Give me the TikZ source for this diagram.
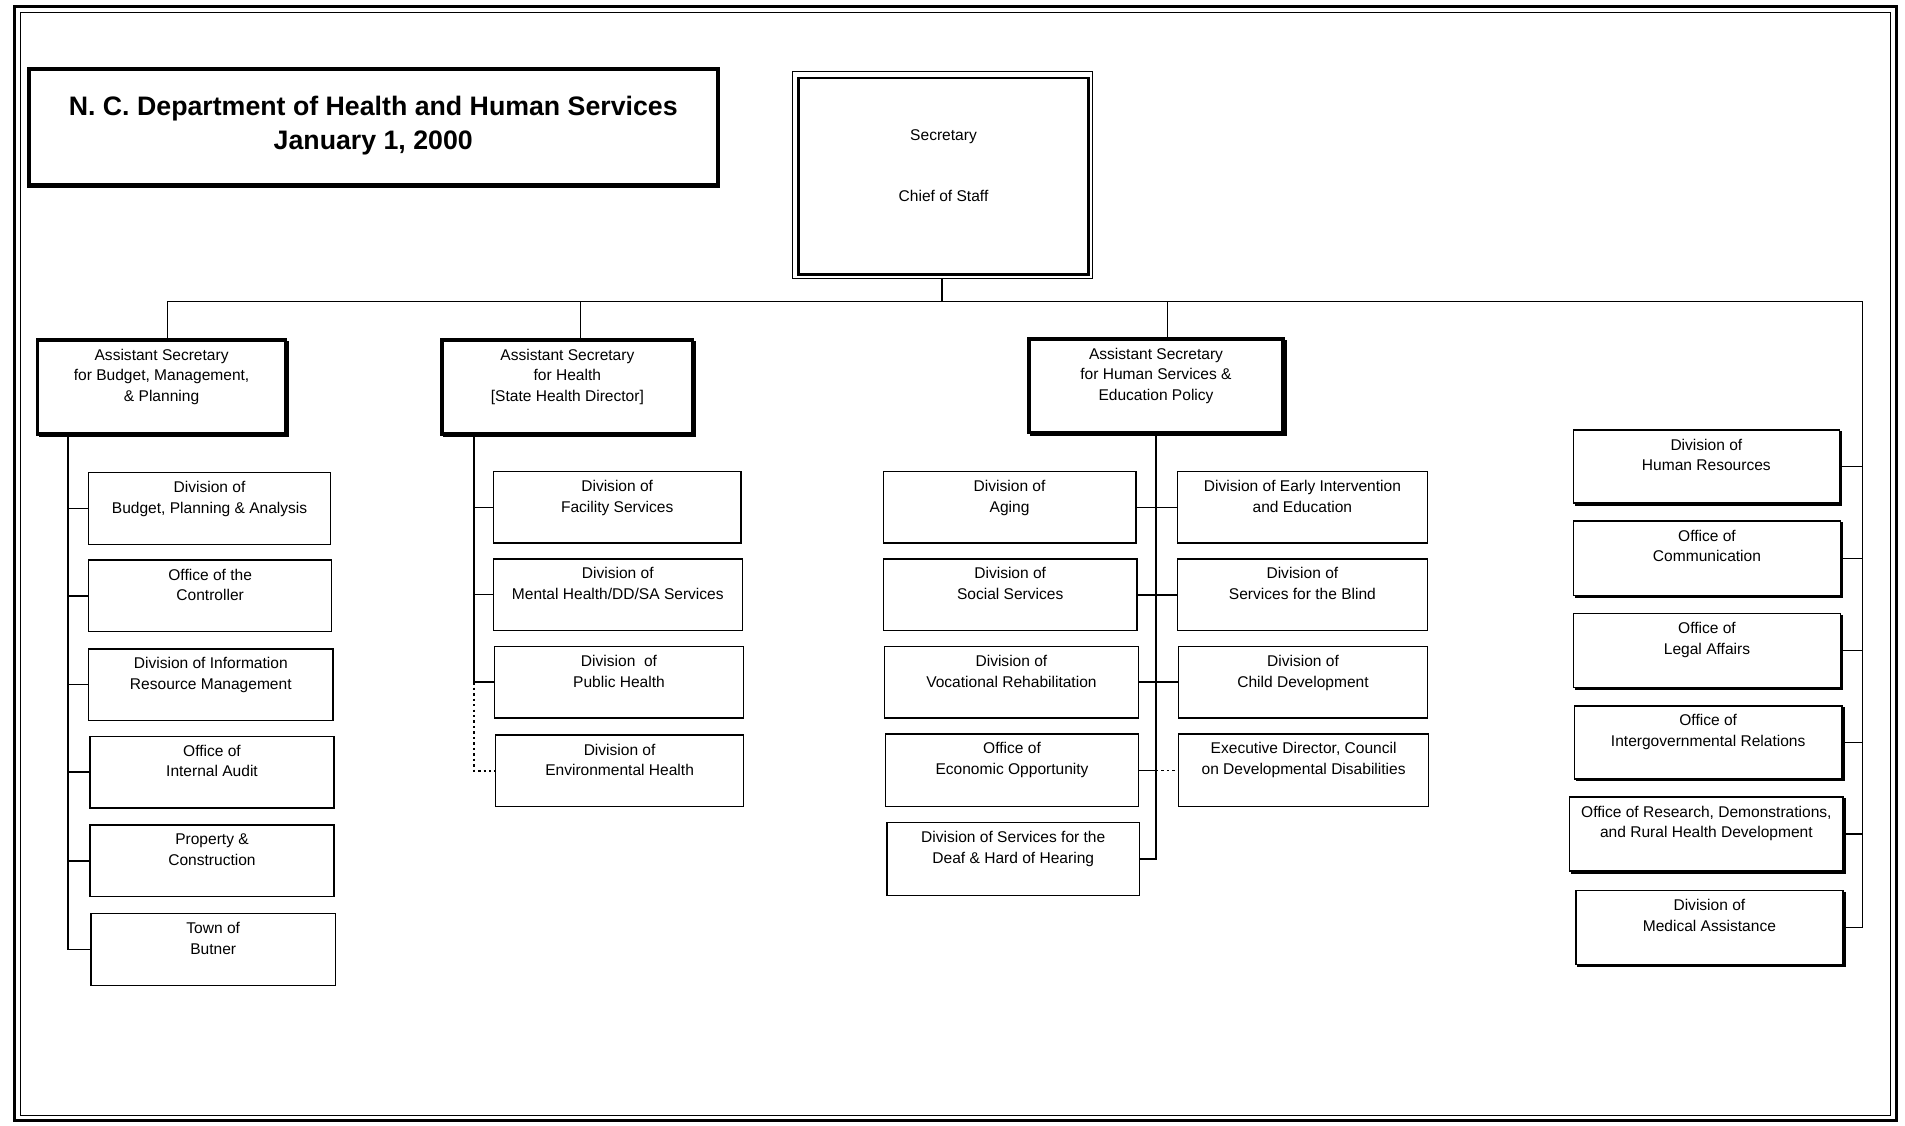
\documentclass[tikz,border=0pt]{standalone}
\usepackage{fontspec}
\setmainfont{Liberation Sans}
\newcommand\bodyfont{\fontsize{12.8}{17}\selectfont}
\newcommand\obox[7][]{%
  \node[obx,#1,anchor=north west] (#2) at (#3,#4)
    {\parbox[t][#6pt][t]{#5pt}{\bodyfont\centering\rule{0pt}{16.5pt}#7}};}
\tikzset{
  obx/.style={draw, line width=1.2pt, inner sep=0pt, outer sep=0pt},
  asst/.style={line width=3pt},
  conn/.style={line width=1.2pt},
  dotconn/.style={line width=1.2pt, dash pattern=on 2pt off 2.5pt},
  shadowst/.style={line width=2pt}
}
\begin{document}
\begin{tikzpicture}[x=1pt,y=-1pt]
\useasboundingbox (0,0) rectangle (1568,926);
% outer frame
\draw[line width=2.5pt] (12,5) rectangle (1561,922);
\draw[line width=0.8pt] (17,10) rectangle (1556,918);

% title
\node[draw, line width=3.5pt, inner sep=0pt, anchor=north west] (title) at (22,55)
  {\parbox[t][96pt][t]{567pt}{\centering\fontsize{22}{28}\selectfont\bfseries\rule{0pt}{38pt}N. C. Department of Health and Human Services\\January 1, 2000}};

% secretary
\node[draw, line width=1pt, inner sep=0pt, outer sep=0pt, minimum width=247pt, minimum height=170pt, anchor=north west] (secO) at (652,59) {};
\node[draw, line width=2.2pt, inner sep=0pt, anchor=north west] (sec) at (656,63)
  {\parbox[t][162pt][t]{239pt}{\bodyfont\centering\rule{0pt}{51.5pt}Secretary\\[33pt]Chief of Staff}};

% assistant secretaries
\obox[asst]{a1}{31}{280}{204}{77}{Assistant Secretary\\for Budget, Management,\\\& Planning}
\obox[asst]{a2}{364}{280}{206}{77}{Assistant Secretary\\for Health\\{[}State Health Director{]}}
\obox[asst]{a3}{847}{279}{209}{77}{Assistant Secretary\\for Human Services \&\\Education Policy}
\foreach \n in {a1,a2,a3}{
  \draw[shadowst] ([shift={(2,1)}]\n.north east) -- ([shift={(2,2)}]\n.south east) -- ([shift={(1,2)}]\n.south west);
}

% column 1
\obox{b1}{73}{389}{199}{59}{Division of\\Budget, Planning \& Analysis}
\obox{b2}{73}{461}{200}{59}{Office of the\\Controller}
\obox{b3}{73}{534}{201}{59}{Division of Information\\Resource Management}
\obox{b4}{74}{606}{201}{59}{Office of\\Internal Audit}
\obox{b5}{74}{679}{201}{59}{Property \&\\Construction}
\obox{b6}{75}{752}{201}{59}{Town of\\Butner}

% column 2
\obox{c1}{406}{388}{204}{59}{Division of\\Facility Services}
\obox{c2}{406}{460}{205}{59}{Division of\\Mental Health/DD/SA Services}
\obox{c3}{407}{532}{205}{59}{Division\ \ of\\Public Health}
\obox{c4}{408}{605}{204}{59}{Division of\\Environmental Health}

% column 3
\obox{d1l}{727}{388}{208}{59}{Division of\\Aging}
\obox{d1r}{969}{388}{206}{59}{Division of Early Intervention\\and Education}
\obox{d2l}{727}{460}{209}{59}{Division of\\Social Services}
\obox{d2r}{969}{460}{206}{59}{Division of\\Services for the Blind}
\obox{d3l}{728}{532}{209}{59}{Division of\\Vocational Rehabilitation}
\obox{d3r}{970}{532}{205}{59}{Division of\\Child Development}
\obox{d4l}{729}{604}{208}{60}{Office of\\Economic Opportunity}
\obox{d4r}{970}{604}{206}{60}{Executive Director, Council\\on Developmental Disabilities}
\obox{d5l}{730}{677}{208}{60}{Division of Services for the\\Deaf \& Hard of Hearing}

% column 4
\obox{e1}{1295}{354}{219}{60}{Division of\\Human Resources}
\obox{e2}{1295}{429}{220}{61}{Office of\\Communication}
\obox{e3}{1295}{505}{220}{61}{Office of\\Legal Affairs}
\obox{e4}{1296}{581}{220}{60}{Office of\\Intergovernmental Relations}
\obox{e5}{1292}{656}{225}{61}{Office of Research, Demonstrations,\\and Rural Health Development}
\obox{e6}{1297}{733}{220}{61}{Division of\\Medical Assistance}
\foreach \n in {e1,e2,e3,e4,e5,e6}{
  \draw[shadowst] ([shift={(1.2,1)}]\n.north east) -- ([shift={(1.2,1.2)}]\n.south east) -- ([shift={(1,1.2)}]\n.south west);
}

% bus
\coordinate (busL) at (138,248);
\coordinate (busR) at (1533,248);
\coordinate (bus2) at (478,248);
\coordinate (bus3) at (961,248);
\draw[conn] (busL) -- (busR);
\draw[conn] (secO.south) -- (secO.south |- busL);
\draw[conn] (busL) -- (busL |- a1.north);
\draw[conn] (bus2) -- (bus2 |- a2.north);
\draw[conn] (bus3) -- (bus3 |- a3.north);

% column 1 connectors
\coordinate (s1) at (56,357);
\draw[conn] (s1) |- (b6.west);
\foreach \n in {b1,b2,b3,b4,b5} \draw[conn] (s1 |- \n.west) -- (\n.west);

% column 2 connectors
\coordinate (s2) at (390,357);
\draw[conn] (s2) -- (s2 |- c3.west);
\foreach \n in {c1,c2,c3} \draw[conn] (s2 |- \n.west) -- (\n.west);
\draw[dotconn] (s2 |- c3.west) |- (c4.west);

% column 3 connectors
\draw[conn] (a3.south) -- (a3.south |- d5l.east) -- (d5l.east);
\draw[conn] (d1l.east) -- (d1r.west);
\draw[conn, line width=1.8pt] (d2l.east) -- (d2r.west);
\draw[conn] (d3l.east) -- (d3r.west);
\draw[conn] (d4l.east) -- (a3.south |- d4l.east);
\draw[dotconn] (a3.south |- d4l.east) -- (d4r.west);

% column 4 connectors
\draw[conn] (busR) |- (e6.east);
\foreach \n in {e1,e2,e3,e4,e5} \draw[conn] (busR |- \n.east) -- (\n.east);
\end{tikzpicture}
\end{document}
